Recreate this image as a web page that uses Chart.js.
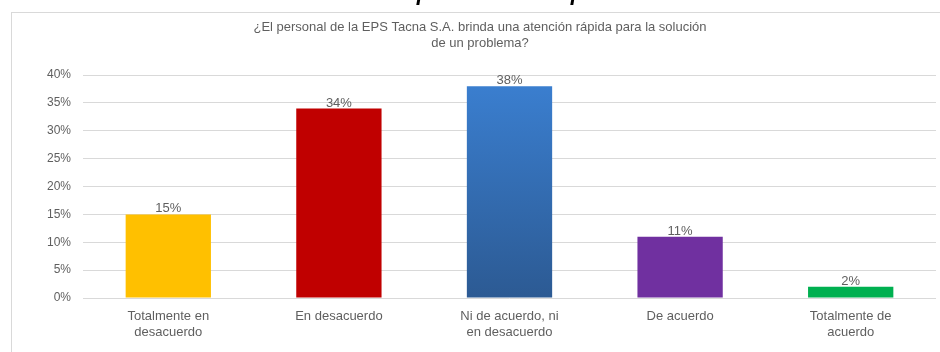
<!DOCTYPE html>
<html lang="es">
<head>
<meta charset="utf-8">
<title>Atención rápida - EPS Tacna</title>
<script src="https://cdn.jsdelivr.net/npm/chart.js@4"></script>
<style>
  html, body { margin: 0; padding: 0; background: #fff; }
  #wrap { width: 940px; height: 352px; position: relative; }
</style>
</head>
<body>
<div id="wrap"><canvas id="grafico"></canvas></div>
<script>
// datos de la pregunta
const categorias = [
  ['Totalmente en', 'desacuerdo'],
  'En desacuerdo',
  ['Ni de acuerdo, ni', 'en desacuerdo'],
  'De acuerdo',
  ['Totalmente de', 'acuerdo']
];
const porcentajes = [15, 34, 38, 11, 2];
const ticksY = [0, 5, 10, 15, 20, 25, 30, 35, 40];
const tituloLineas = [
  '¿El personal de la EPS Tacna S.A. brinda una atención rápida para la solución',
  'de un problema?'
];
const encabezado = 'Resultados del ítem 7: Dimensión capacidad de respuesta';

const gris = '#5F5F5F';
const colores = ['#FFC000', '#C00000', null, '#7030A0', '#00B050'];

// marco, encabezado recortado y título
const marcoPlugin = {
  id: 'marco',
  beforeDraw(chart) {
    const c = chart.ctx;
    c.save();
    c.fillStyle = '#fff';
    c.fillRect(0, 0, chart.width, chart.height);
    c.strokeStyle = '#D9D9D9';
    c.lineWidth = 1;
    c.strokeRect(11.5, 12.5, 940, 345);
    c.restore();
  },
  afterDraw(chart) {
    const c = chart.ctx;
    c.save();
    // línea superior que queda cortada por el borde
    c.fillStyle = '#000';
    c.font = 'italic bold 22px "Liberation Sans", sans-serif';
    c.textAlign = 'left';
    c.textBaseline = 'alphabetic';
    c.fillText(encabezado, 34, 0);
    // título del gráfico
    c.fillStyle = gris;
    c.font = '13px "Liberation Sans", Arial, sans-serif';
    c.textAlign = 'center';
    c.textBaseline = 'middle';
    tituloLineas.forEach((t, i) => c.fillText(t, 480, 27 + i * 16));
    c.restore();
  }
};

new Chart(document.getElementById('grafico'), {
  type: 'bar',
  data: {
    labels: categorias,
    datasets: [{
      data: porcentajes,
      backgroundColor: (ctx) => {
        const i = ctx.dataIndex;
        if (colores[i]) return colores[i];
        const area = ctx.chart.chartArea;
        if (!area) return '#3A78C2';
        const g = ctx.chart.ctx.createLinearGradient(0, area.top, 0, area.bottom);
        g.addColorStop(0, '#3B80D2');
        g.addColorStop(1, '#2C5A93');
        return g;
      },
      borderWidth: 0,
      categoryPercentage: 1,
      barPercentage: 0.5
    }]
  },
  options: {
    responsive: true,
    maintainAspectRatio: false,
    animation: false,
    events: [],
    layout: { padding: { top: 75, right: 4, left: 0, bottom: 0 } },
    plugins: {
      legend: { display: false },
      tooltip: { enabled: false }
    },
    scales: {
      x: {
        grid: { display: false, drawTicks: false },
        border: { display: false },
        ticks: {
          color: gris,
          font: { family: '"Liberation Sans", Arial, sans-serif', size: 13 },
          padding: 11,
          maxRotation: 0,
          autoSkip: false
        },
        afterFit: (s) => { s.height = 54; }
      },
      y: {
        min: 0,
        max: 40,
        afterBuildTicks: (s) => { s.ticks = ticksY.map(v => ({ value: v })); },
        grid: { color: '#D9D9D9', drawTicks: false },
        border: { display: false },
        ticks: {
          color: gris,
          font: { family: '"Liberation Sans", Arial, sans-serif', size: 12 },
          padding: 12,
          callback: (v) => v + '%'
        },
        afterFit: (s) => { s.width = 83; }
      }
    }
  },
  plugins: [marcoPlugin, {
    // etiqueta de valor sobre cada barra
    id: 'etiquetas',
    afterDatasetsDraw(chart) {
      const c = chart.ctx;
      const meta = chart.getDatasetMeta(0);
      c.save();
      c.fillStyle = gris;
      c.font = '13px "Liberation Sans", Arial, sans-serif';
      c.textAlign = 'center';
      c.textBaseline = 'bottom';
      meta.data.forEach((bar, i) => {
        c.fillText(porcentajes[i] + '%', bar.x, bar.y + 1);
      });
      c.restore();
    }
  }]
});
</script>
</body>
</html>
